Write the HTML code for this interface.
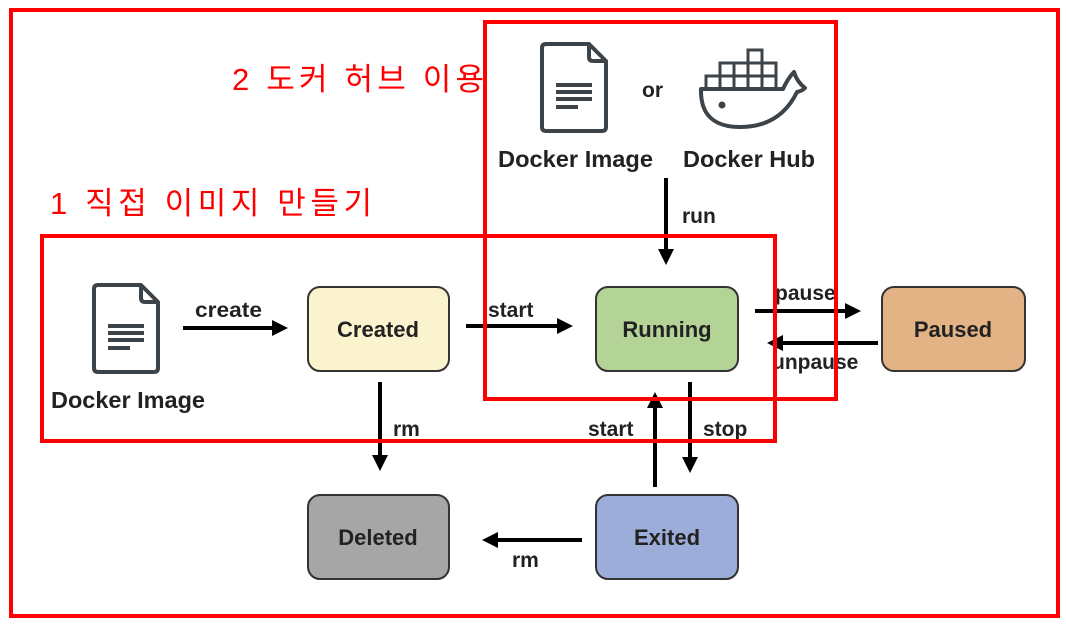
<!DOCTYPE html>
<html><head><meta charset="utf-8"><style>
body{margin:0;background:#fff;}
svg{display:block}
text{font-family:"Liberation Sans","Noto Sans CJK KR",sans-serif;}
.b{font-weight:bold;fill:#222}
</style></head><body>
<svg width="1066" height="625" viewBox="0 0 1066 625">
<defs><marker id="ah" markerWidth="4" markerHeight="4" refX="3" refY="2" orient="auto" markerUnits="strokeWidth"><path d="M0,0 L4,2 L0,4 z" fill="#000"/></marker></defs>
<g stroke="#333" stroke-width="2">
<rect x="308" y="287" width="141" height="84" rx="12" fill="#fbf3cd"/>
<rect x="596" y="287" width="142" height="84" rx="12" fill="#b3d496"/>
<rect x="882" y="287" width="143" height="84" rx="12" fill="#e3b285"/>
<rect x="308" y="495" width="141" height="84" rx="12" fill="#a6a6a6"/>
<rect x="596" y="495" width="142" height="84" rx="12" fill="#9badd8"/>
</g>
<g class="b" font-size="22" text-anchor="middle">
<text x="378" y="337">Created</text>
<text x="667" y="337">Running</text>
<text x="953" y="337">Paused</text>
<text x="378" y="545">Deleted</text>
<text x="667" y="545">Exited</text>
</g>
<g stroke="#000" stroke-width="4" marker-end="url(#ah)">
<line x1="183" y1="328" x2="284" y2="328"/>
<line x1="466" y1="326" x2="569" y2="326"/>
<line x1="666" y1="178" x2="666" y2="261"/>
<line x1="755" y1="311" x2="857" y2="311"/>
<line x1="878" y1="343" x2="771" y2="343"/>
<line x1="380" y1="382" x2="380" y2="467"/>
<line x1="655" y1="487" x2="655" y2="396"/>
<line x1="690" y1="382" x2="690" y2="469"/>
<line x1="582" y1="540" x2="486" y2="540"/>
</g>
<g class="b" font-size="21">
<text x="195" y="317" textLength="67" lengthAdjust="spacingAndGlyphs">create</text>
<text x="488" y="317">start</text>
<text x="682" y="223">run</text>
<text x="775" y="300">pause</text>
<text x="772" y="369">unpause</text>
<text x="393" y="436">rm</text>
<text x="588" y="436">start</text>
<text x="703" y="436">stop</text>
<text x="512" y="567">rm</text>
</g>
<g class="b" font-size="23">
<text x="51" y="408" textLength="154" lengthAdjust="spacingAndGlyphs">Docker Image</text>
<text x="498" y="167" textLength="155" lengthAdjust="spacingAndGlyphs">Docker Image</text>
<text x="683" y="167" textLength="132" lengthAdjust="spacingAndGlyphs">Docker Hub</text>
<text x="642" y="97" font-size="21">or</text>
</g>
<g fill="none" stroke="#3d4449" stroke-width="4" stroke-linejoin="round">
<path d="M98,285 H141 L158,302 V368 Q158,372 154,372 H98 Q94,372 94,368 V289 Q94,285 98,285 Z M141,285 V298 Q141,302 145,302 H158"/>
<path d="M108,326 H144 M108,333 H144 M108,340 H144 M108,348 H130"/>
<path d="M546,44 H589 L606,61 V127 Q606,131 602,131 H546 Q542,131 542,127 V48 Q542,44 546,44 Z M589,44 V57 Q589,61 593,61 H606"/>
<path d="M556,85 H592 M556,92 H592 M556,99 H592 M556,107 H578"/>
<path d="M701,89 H783 Q788,78 794,72 Q797,82 805,88 Q802,91 797,92 Q780,127 740,127 Q700,127 701,89 Z"/>
</g>
<g fill="none" stroke="#3d4449" stroke-width="3">
<rect x="706" y="76" width="14" height="13"/><rect x="720" y="76" width="14" height="13"/><rect x="734" y="76" width="14" height="13"/><rect x="748" y="76" width="14" height="13"/><rect x="762" y="76" width="14" height="13"/>
<rect x="720" y="63" width="14" height="13"/><rect x="734" y="63" width="14" height="13"/><rect x="748" y="63" width="14" height="13"/><rect x="762" y="63" width="14" height="13"/>
<rect x="748" y="50" width="14" height="13"/>
</g>
<circle cx="722" cy="105" r="3.5" fill="#3d4449"/>
<g fill="none" stroke="#f00" stroke-width="4">
<rect x="11" y="10" width="1047" height="606"/>
<rect x="485" y="22" width="351" height="377"/>
<rect x="42" y="236" width="733" height="205"/>
</g>
<g fill="#f00" font-size="31">
<text x="232" y="90" textLength="252">2 도커 허브 이용</text>
<text x="50" y="214" textLength="322">1 직접 이미지 만들기</text>
</g>
</svg>
</body></html>
